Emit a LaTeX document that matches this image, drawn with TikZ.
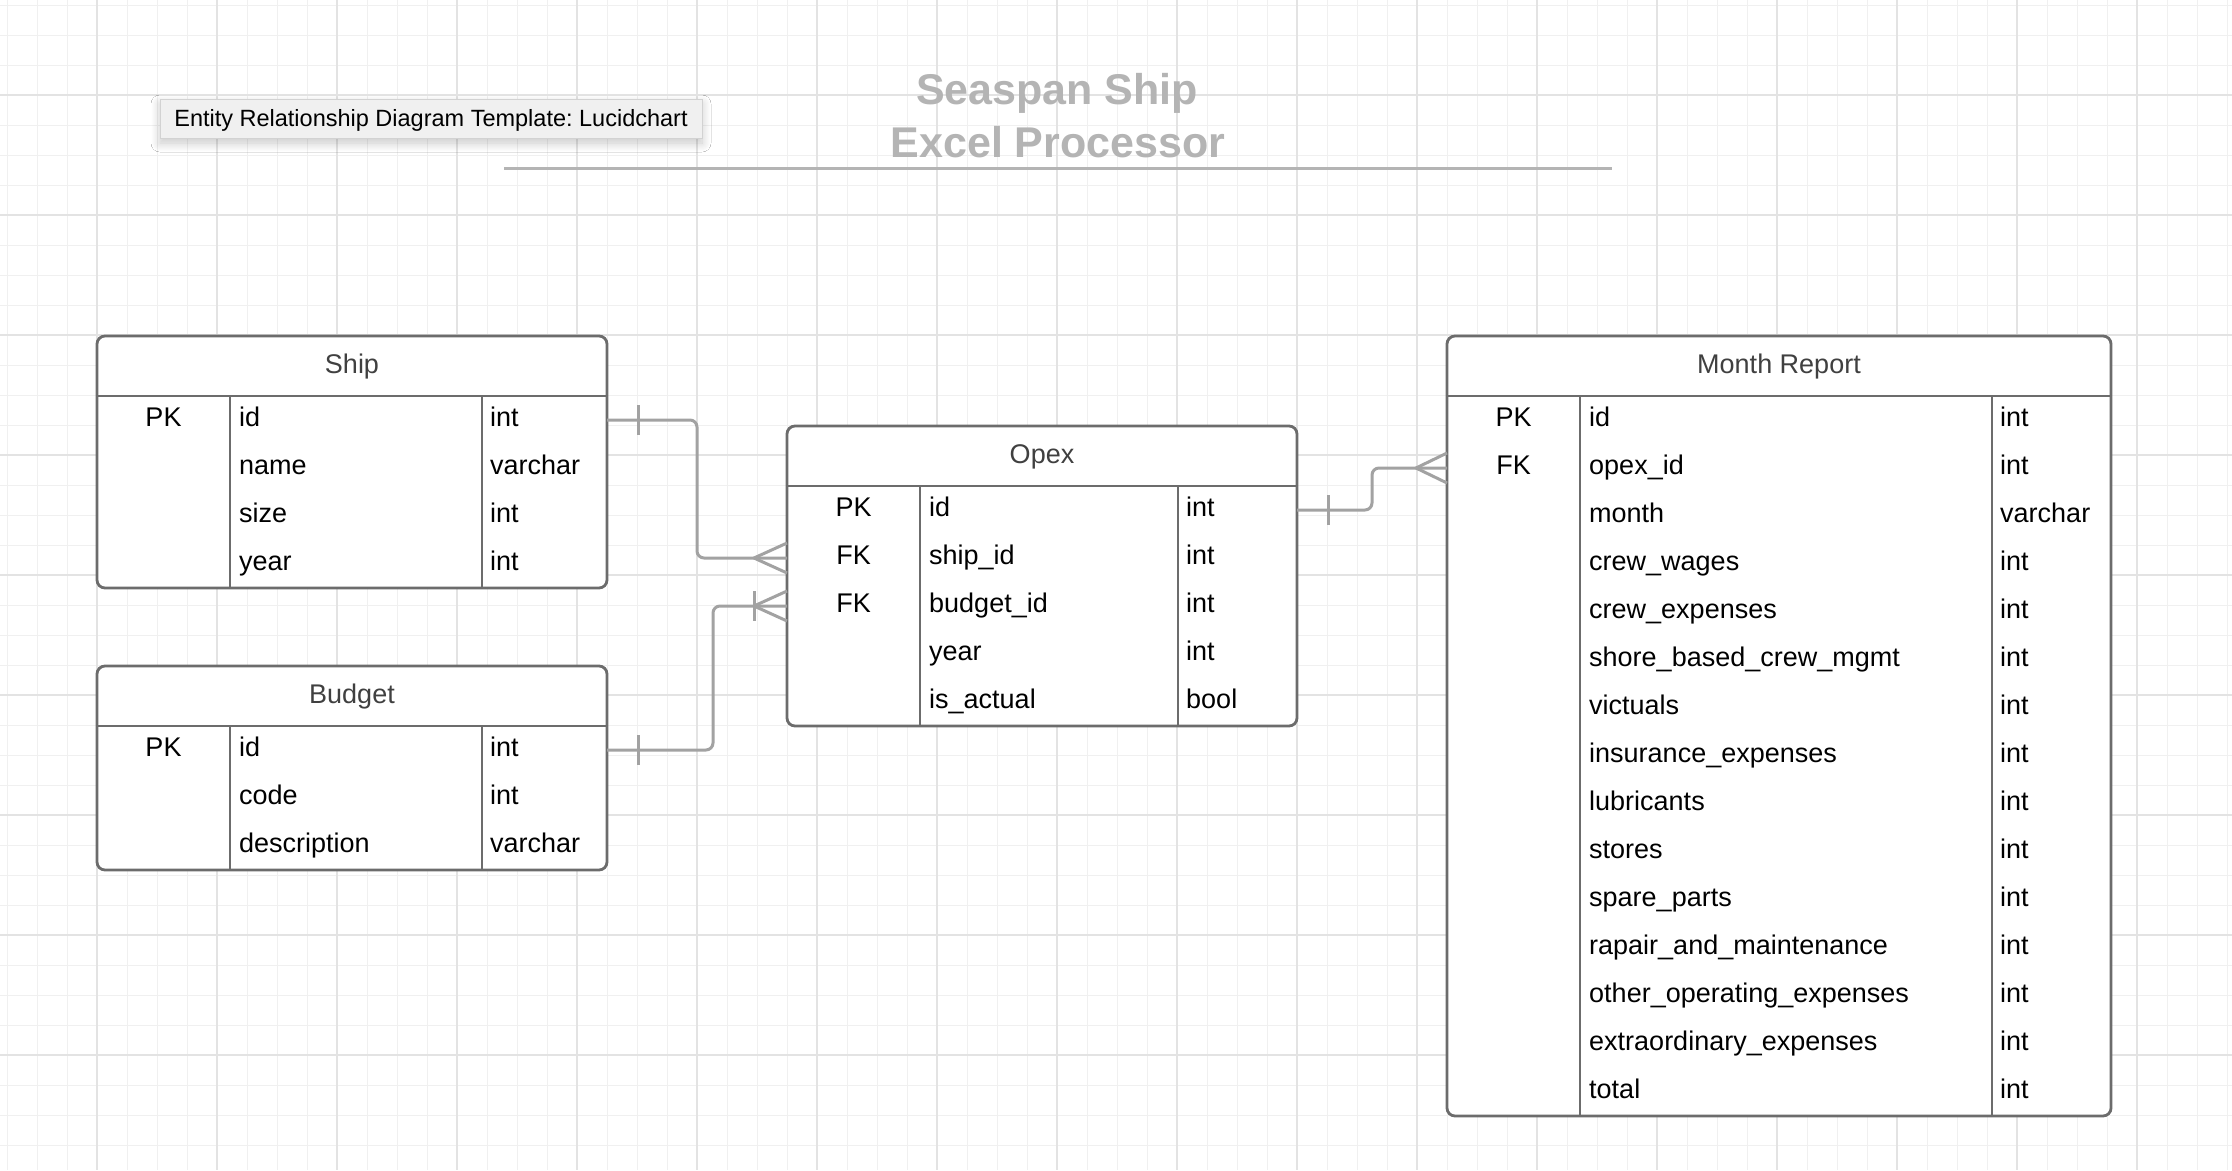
\documentclass[tikz,border=0pt]{standalone}
\usepackage{fontspec}
\setmainfont{Liberation Sans}
\frenchspacing
\usetikzlibrary{calc,shadows.blur}
\definecolor{gridminor}{HTML}{F0F0F0}
\definecolor{gridmajor}{HTML}{E3E3E3}
\definecolor{tblborder}{HTML}{6C6C6C}
\definecolor{connclr}{HTML}{A2A2A2}
\definecolor{headtext}{HTML}{404040}
\definecolor{titlegray}{HTML}{B4B4B4}
\definecolor{tipfill}{HTML}{F0F0F0}
\definecolor{tipborder}{HTML}{D2D2D2}
\tikzset{
  gmin/.style={draw=gridminor, line width=1pt},
  gmaj/.style={draw=gridmajor, line width=1.2pt},
  tbl/.style={draw=tblborder, line width=2.8pt, fill=white, rounded corners=8pt, inner sep=0pt, outer sep=0pt},
  tblline/.style={draw=tblborder, line width=2.6pt},
  cell/.style={inner sep=0pt, font=\fontsize{27}{32}\selectfont, text=black},
  headcell/.style={inner sep=0pt, font=\fontsize{27}{32}\selectfont, text=headtext},
  conn/.style={draw=connclr, line width=3pt, line join=round},
  titletext/.style={inner sep=0pt, font=\fontsize{43}{50}\selectfont\bfseries, text=titlegray},
  titleline/.style={draw=titlegray, line width=3pt},
  tooltip/.style={fill=tipfill, draw=tipborder, line width=1pt, minimum width=542pt, minimum height=39pt,
    inner sep=0pt, text height=18pt, text depth=3pt, font=\fontsize{23.5}{28}\selectfont, text=black,
    blur shadow={shadow xshift=0pt, shadow yshift=-5pt, shadow blur radius=9pt, shadow blur steps=10, shadow opacity=22}}
}
% #1 name, #2 x, #3 y, #4 width, #5 key column width, #6 type column offset, #7 title, #8 number of rows, #9 rows
\newcommand{\erdtable}[9]{%
  \node[tbl, anchor=north west, minimum width=#4pt, minimum height={60+48*#8}] (#1) at (#2,#3) {};
  \draw[tblline] (#2,{#3+60}) -- ({#2+#4},{#3+60});
  \draw[tblline] ({#2+#5},{#3+60}) -- ({#2+#5},{#3+60+48*#8});
  \draw[tblline] ({#2+#6},{#3+60}) -- ({#2+#6},{#3+60+48*#8});
  \node[headcell, anchor=base] (#1-title) at ({#2+#4/2},{#3+37}) {#7};
  \foreach \rk/\rf/\rt [count=\i] in {#9} {
    \coordinate (#1-r\i) at (#2,{#3+84+48*(\i-1)});
    \node[cell, anchor=base] (#1-k\i) at ({#2+#5/2},{#3+90+48*(\i-1)}) {\rk};
    \node[cell, anchor=base west] (#1-f\i) at ({#2+#5+9},{#3+90+48*(\i-1)}) {\rf};
    \node[cell, anchor=base west] (#1-t\i) at ({#2+#6+8},{#3+90+48*(\i-1)}) {\rt};
  }%
}
\begin{document}
\begin{tikzpicture}[x=1pt,y=-1pt]
\useasboundingbox (0,0) rectangle (2232,1170);
\fill[white] (0,0) rectangle (2232,1170);
% grid
\foreach \gx in {7,37,...,2227} \draw[gmin] (\gx,0) -- (\gx,1170);
\foreach \gy in {5,35,...,1165} \draw[gmin] (0,\gy) -- (2232,\gy);
\foreach \gx in {97,217,...,2227} \draw[gmaj] (\gx,0) -- (\gx,1170);
\foreach \gy in {95,215,...,1165} \draw[gmaj] (0,\gy) -- (2232,\gy);

% tooltip
\node[tooltip] (tip) at (431,118.5) {Entity Relationship Diagram Template: Lucidchart};

% title
\node[titletext, anchor=base] (title1) at (1057,104) {Seaspan Ship};
\node[titletext, anchor=base] (title2) at (1058,157) {Excel Processor};
\coordinate (tl1) at (504,168);
\coordinate (tl2) at (1612,168);
\draw[titleline] (tl1) -- (tl2);

% tables
\erdtable{ship}{97}{336}{510}{133}{385}{Ship}{4}{PK/id/int, {}/name/varchar, {}/size/int, {}/year/int}
\erdtable{budget}{97}{666}{510}{133}{385}{Budget}{3}{PK/id/int, {}/code/int, {}/description/varchar}
\erdtable{opex}{787}{426}{510}{133}{391}{Opex}{5}{PK/id/int, FK/ship\_id/int, FK/budget\_id/int, {}/year/int, {}/is\_actual/bool}
\erdtable{month}{1447}{336}{664}{133}{545}{Month Report}{15}{PK/id/int, FK/opex\_id/int, {}/month/varchar, {}/crew\_wages/int, {}/crew\_expenses/int, {}/shore\_based\_crew\_mgmt/int, {}/victuals/int, {}/insurance\_expenses/int, {}/lubricants/int, {}/stores/int, {}/spare\_parts/int, {}/rapair\_and\_maintenance/int, {}/other\_operating\_expenses/int, {}/extraordinary\_expenses/int, {}/total/int}

% connector end points
\coordinate (e1) at (ship.east |- ship-r1);
\coordinate (e2) at (opex.west |- opex-r2);
\coordinate (e3) at (budget.east |- budget-r1);
\coordinate (e4) at (opex.west |- opex-r3);
\coordinate (e5) at (opex.east |- opex-r1);
\coordinate (e6) at (month.west |- month-r2);
\coordinate (j1) at (697,0);
\coordinate (j2) at (713,0);
\coordinate (j3) at (1372,0);

% connectors
\draw[conn, rounded corners=7pt] (e1) -| (j1 |- e2) -- (e2);
\draw[conn, rounded corners=7pt] (e3) -| (j2 |- e4) -- (e4);
\draw[conn, rounded corners=7pt] (e5) -| (j3 |- e6) -- (e6);

% one marks
\draw[conn] ($(e1)+(31,-15)$) -- ++(0,30);
\draw[conn] ($(e3)+(31,-15)$) -- ++(0,30);
\draw[conn] ($(e5)+(31,-15)$) -- ++(0,30);
\draw[conn] ($(e4)+(-33,-15)$) -- ++(0,30);
% crow's feet
\draw[conn] ($(e2)+(0,-15)$) -- ($(e2)+(-33,0)$) -- ($(e2)+(0,15)$);
\draw[conn] ($(e4)+(0,-15)$) -- ($(e4)+(-33,0)$) -- ($(e4)+(0,15)$);
\draw[conn] ($(e6)+(0,-15)$) -- ($(e6)+(-31,0)$) -- ($(e6)+(0,15)$);
\end{tikzpicture}
\end{document}
